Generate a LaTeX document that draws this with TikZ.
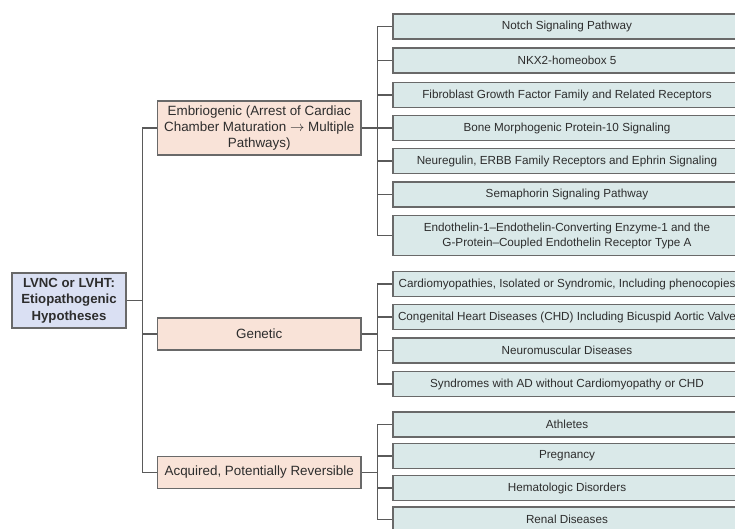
\documentclass[tikz,border=0pt]{standalone}
\usepackage{fontspec}
\setmainfont{Liberation Sans}
\definecolor{rootfill}{RGB}{218,224,243}
\definecolor{midfill}{RGB}{249,227,216}
\definecolor{leaffill}{RGB}{218,233,233}
\definecolor{bordercol}{RGB}{105,105,105}
\definecolor{linecol}{RGB}{90,90,90}
\definecolor{txtcol}{RGB}{45,45,45}
\tikzset{
  boxbase/.style={draw=bordercol, line width=1.1pt, inner sep=0pt, align=center, text=txtcol},
  rootbox/.style={boxbase, fill=rootfill, minimum width=114pt, minimum height=55pt,
    font=\bfseries\fontsize{13.2}{16.7}\selectfont},
  midbox/.style={boxbase, fill=midfill, minimum width=203.5pt,
    font=\fontsize{13.4}{15.7}\selectfont},
  leafbox/.style={boxbase, fill=leaffill, minimum width=348pt, minimum height=25pt,
    font=\fontsize{11.7}{15}\selectfont},
  conn/.style={draw=linecol, line width=1.1pt}
}
\begin{document}
\begin{tikzpicture}[x=1pt,y=1pt]
\useasboundingbox (0,0) rectangle (735,-528);
\clip (0,0) rectangle (735,-528);
% root
\node[rootbox] (root) at (69,-300.5) {LVNC or LVHT:\\Etiopathogenic\\Hypotheses};
% middle level
\node[midbox, minimum height=54pt] (emb) at (259.25,-128) {Embriogenic (Arrest of Cardiac\\Chamber Maturation $\rightarrow$ Multiple\\Pathways)};
\node[midbox, minimum height=32pt] (gen) at (259.25,-334) {Genetic};
\node[midbox, minimum height=31.5pt] (acq) at (259.25,-472.3) {Acquired, Potentially Reversible};
% leaves: embriogenic
\node[leafbox] (e1) at (567,-26.5) {Notch Signaling Pathway};
\node[leafbox] (e2) at (567,-60.5) {NKX2-homeobox 5};
\node[leafbox] (e3) at (567,-95) {Fibroblast Growth Factor Family and Related Receptors};
\node[leafbox] (e4) at (567,-128) {Bone Morphogenic Protein-10 Signaling};
\node[leafbox] (e5) at (567,-161) {Neuregulin, ERBB Family Receptors and Ephrin Signaling};
\node[leafbox] (e6) at (567,-194.5) {Semaphorin Signaling Pathway};
\node[leafbox, minimum height=40pt] (e7) at (567,-235.5) {Endothelin-1--Endothelin-Converting Enzyme-1 and the\\G-Protein--Coupled Endothelin Receptor Type A};
% leaves: genetic
\node[leafbox] (g1) at (567,-284) {Cardiomyopathies, Isolated or Syndromic, Including phenocopies};
\node[leafbox] (g2) at (567,-317) {Congenital Heart Diseases (CHD) Including Bicuspid Aortic Valve};
\node[leafbox] (g3) at (567,-350.5) {Neuromuscular Diseases};
\node[leafbox] (g4) at (567,-384) {Syndromes with AD without Cardiomyopathy or CHD};
% leaves: acquired
\node[leafbox] (a1) at (567,-424.5) {Athletes};
\node[leafbox] (a2) at (567,-456) {Pregnancy};
\node[leafbox] (a3) at (567,-488) {Hematologic Disorders};
\node[leafbox] (a4) at (567,-519.5) {Renal Diseases};
% connectors: root to middle level
\coordinate (t) at ([xshift=15.7pt]root.east);
\draw[conn] (root.east) -- (t);
\draw[conn] (emb.west) -| (t);
\draw[conn] (acq.west) -| (t);
\draw[conn] (gen.west) -- (gen.west -| t);
% connectors: middle to leaves
\coordinate (b1) at ([xshift=16pt]emb.east);
\coordinate (b2) at ([xshift=16pt]gen.east);
\coordinate (b3) at ([xshift=16pt]acq.east);
\draw[conn] (emb.east) -- (b1);
\draw[conn] (gen.east) -- (b2);
\draw[conn] (acq.east) -- (b3);
\foreach \n in {e1,e2,e3,e4,e5,e6,e7} \draw[conn] (\n.west) -| (b1);
\foreach \n in {g1,g2,g3,g4} \draw[conn] (\n.west) -| (b2);
\foreach \n in {a1,a2,a3,a4} \draw[conn] (\n.west) -| (b3);
\end{tikzpicture}
\end{document}
